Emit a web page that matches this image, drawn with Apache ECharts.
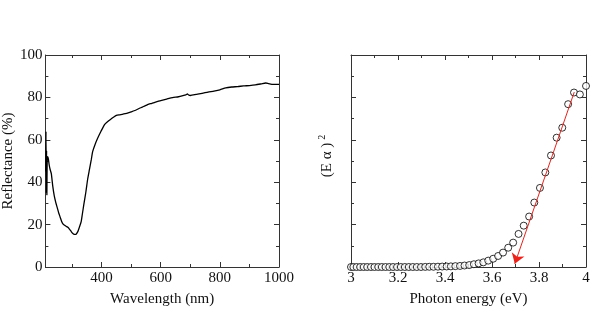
<!DOCTYPE html>
<html><head><meta charset="utf-8">
<script src="https://cdn.jsdelivr.net/npm/echarts@6/dist/echarts.min.js"></script>
<style>html,body{margin:0;padding:0;background:#fff}#c{width:598px;height:318px}</style>
</head><body><div id="c"></div>
<script>
// Left panel: reflectance spectrum
const wavelength = [211,212,213,214,215,216,218,220,223,226,230,235,240,245,250,255,260,265,270,275,280,286,290,297,302,308,314,320,325,331,335,340,347,353,359,365,370,378,387,398,410,420,430,440,450,460,470,480,490,500,510,520,530,540,550,560,570,580,590,600,620,640,660,675,685,690,695,700,720,740,760,780,800,820,840,860,880,900,920,940,955,965,980,1000];
const reflectance = [45,64,35,55,34,50,52,51,48,46,44,38,33.5,30.5,28,25.5,23.5,21.5,20.2,19.7,19.2,18.7,18.1,16.8,15.9,15.4,15.5,16.8,18.8,21.4,25,29.5,35.5,41.5,46,50.5,54.5,57.8,60.8,64,67.2,68.5,69.6,70.6,71.5,71.8,72,72.3,72.7,73.2,73.7,74.3,75,75.6,76.2,76.8,77.2,77.7,78.1,78.5,79.2,79.9,80.3,80.8,81.2,81.6,81.1,80.9,81.4,81.9,82.5,83,83.6,84.5,84.9,85.1,85.4,85.6,85.9,86.4,86.8,86.5,86.1,86.1];
const wlMajorTicks = [400,600,800,1000];
const wlMinorTicks = [300,500,700,900];
// Right panel: Tauc plot
const photonEnergy = [3.000,3.010,3.024,3.039,3.054,3.069,3.085,3.100,3.116,3.131,3.147,3.163,3.179,3.196,3.212,3.229,3.246,3.263,3.280,3.298,3.316,3.333,3.351,3.370,3.388,3.407,3.425,3.444,3.464,3.483,3.503,3.523,3.543,3.563,3.584,3.605,3.626,3.647,3.669,3.690,3.713,3.735,3.758,3.780,3.804,3.827,3.851,3.875,3.899,3.924,3.949,3.974,4.000];
const eAlpha2 = [0,0,0,0,0,0,0,0,0,0,0,0,0,0,0,0,0,0,0,0,0.05,0.1,0.1,0.15,0.2,0.25,0.3,0.4,0.5,0.7,0.9,1.3,1.7,2.2,3.0,3.9,5.2,6.8,9.1,11.5,15.6,19.5,23.8,30.4,37.3,44.6,52.6,61,65.7,76.8,82.3,81.4,85.4];
const fitStart = [3.95, 82.5];
const fitEnd = [3.697, 1.5];

const font = 'Liberation Serif, Times New Roman, serif';
const ink = '#111';
const frame = '#333';

function zip(a,b){return a.map((v,i)=>[v,b[i]]);}

function xAx(grid, pos, opt){
  return Object.assign({
    gridIndex: grid, type:'value', position: pos,
    axisLine:{show:true, onZero:false, lineStyle:{color:frame,width:1}},
    axisTick:{show:true, inside:true, length:5, lineStyle:{color:frame}},
    axisLabel:{show:false},
    splitLine:{show:false}
  }, opt);
}
function yAx(grid, pos, opt){
  return Object.assign({
    gridIndex: grid, type:'value', position: pos, min:0, max:100, interval:20,
    axisLine:{show:true, onZero:false, lineStyle:{color:frame,width:1}},
    axisTick:{show:true, inside:true, length:5, lineStyle:{color:frame}},
    minorTick:{show:true, splitNumber:2, length:3, lineStyle:{color:frame}},
    axisLabel:{show:false},
    splitLine:{show:false}, minorSplitLine:{show:false}
  }, opt);
}

const labelStyle = {show:true, color:ink, fontFamily:font, fontSize:15, formatter:(v)=>String(+v.toFixed(2))};

const option = {
  animation:false,
  backgroundColor:'#fff',
  grid:[
    {left:44, right:319, top:55, bottom:51},
    {left:351, right:12, top:55, bottom:51}
  ],
  xAxis:[
    xAx(0,'bottom',{min:210,max:1000,
      axisTick:{show:true,inside:true,length:5,customValues:wlMajorTicks,lineStyle:{color:frame}},
      axisLabel:Object.assign({customValues:wlMajorTicks, margin:4}, labelStyle),
      name:'Wavelength (nm)', nameLocation:'middle', nameGap:25,
      nameTextStyle:{color:ink,fontFamily:font,fontSize:15}}),
    xAx(0,'bottom',{min:210,max:1000, axisLine:{show:false,onZero:false},
      axisTick:{show:true,inside:true,length:3,customValues:wlMinorTicks,lineStyle:{color:frame}}}),
    xAx(0,'top',{min:210,max:1000,
      axisTick:{show:true,inside:true,length:5,customValues:wlMajorTicks,lineStyle:{color:frame}}}),
    xAx(0,'top',{min:210,max:1000, axisLine:{show:false,onZero:false},
      axisTick:{show:true,inside:true,length:3,customValues:wlMinorTicks,lineStyle:{color:frame}}}),
    xAx(1,'bottom',{min:3,max:4,interval:0.2,
      minorTick:{show:true,splitNumber:2,length:3,lineStyle:{color:frame}},
      axisLabel:Object.assign({margin:4}, labelStyle),
      name:'Photon energy (eV)', nameLocation:'middle', nameGap:25,
      nameTextStyle:{color:ink,fontFamily:font,fontSize:15}}),
    xAx(1,'top',{min:3,max:4,interval:0.2,
      minorTick:{show:true,splitNumber:2,length:3,lineStyle:{color:frame}}})
  ],
  yAxis:[
    yAx(0,'left',{axisLabel:Object.assign({margin:3}, labelStyle),
      name:'Reflectance (%)', nameLocation:'middle', nameGap:22,
      nameTextStyle:{color:ink,fontFamily:font,fontSize:15}}),
    yAx(0,'right',{}),
    yAx(1,'left',{
      name:'{m|(E α )}{sup|2}', nameLocation:'middle', nameGap:14,
      nameTextStyle:{color:ink,fontFamily:font,fontSize:15, padding:[0,0,0,10],
        rich:{
          m:{fontFamily:font,fontSize:15,color:ink,lineHeight:20,verticalAlign:'middle'},
          sup:{fontFamily:font,fontSize:10,color:ink,lineHeight:10,verticalAlign:'top',padding:[0,0,0,3]}
        }}}),
    yAx(1,'right',{})
  ],
  series:[
    {type:'line', xAxisIndex:0, yAxisIndex:0, data:zip(wavelength,reflectance),
      showSymbol:false, smooth:0.2, lineStyle:{color:'#000',width:1.3}, silent:true},
    {type:'scatter', xAxisIndex:4, yAxisIndex:2, data:zip(photonEnergy,eAlpha2),
      symbol:'circle', symbolSize:7,
      itemStyle:{color:'#fff', borderColor:'#000', borderWidth:1},
      silent:true, z:3,
      markLine:{silent:true, symbol:['none','arrow'], symbolSize:10,
        label:{show:false},
        lineStyle:{color:'#e8231c', width:1, type:'solid'},
        data:[[{coord:fitStart},{coord:fitEnd}]]}
    }
  ]
};
const chart = echarts.init(document.getElementById('c'), null, {renderer:'canvas'});
chart.setOption(option);
</script>
</body></html>
